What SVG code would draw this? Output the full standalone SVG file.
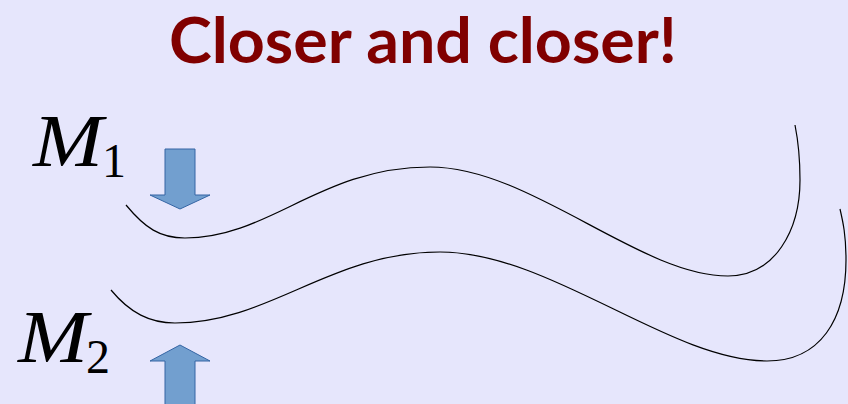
<svg xmlns="http://www.w3.org/2000/svg" width="848" height="404" viewBox="0 0 848 404">
<style>
.title{font-family:Lato,"Liberation Sans",sans-serif;font-weight:bold;font-size:63px;fill:#800000}
.m{font-family:"Liberation Serif",serif;font-style:italic;font-size:74px;fill:#000}
.sub{font-family:"Liberation Serif",serif;font-size:48px;fill:#000}
.arrow{fill:#729fcf;stroke:#3465a4;stroke-width:1}
.curve{fill:none;stroke:#000;stroke-width:1.2}
</style>
<rect width="848" height="404" fill="#e6e6fc"/>
<g id="title"><text class="title" x="423" y="62.5" text-anchor="middle" textLength="508" lengthAdjust="spacingAndGlyphs">Closer and closer!</text></g>
<g id="m1"><text class="m" x="33" y="166" textLength="70" lengthAdjust="spacingAndGlyphs">M</text><text class="sub" x="102" y="177">1</text></g>
<g id="m2"><text class="m" x="18" y="362" textLength="70" lengthAdjust="spacingAndGlyphs">M</text><text class="sub" x="86" y="373">2</text></g>
<g id="arrow1"><polygon class="arrow" points="165,149 195,149 195,195 210,195 180,209 150,195 165,195"/></g>
<g id="arrow2"><polygon class="arrow" points="180,345 210,361 195,361 195,406 165,406 165,361 150,361"/></g>
<g id="connectors">
<path class="curve" d="M126,205 C145,228 160,238 185,238 C270,238 320,167 430,167 C530,167 640,276 728,276 C775,276 800,230 800,180 C800,155 798,140 795,125"/>
<path class="curve" d="M111,290 C130,313 150,323 175,323 C270,323 330,252 440,252 C550,252 670,361 767,361 C820,361 846,320 846,260 C846,235 843,222 840,209"/>
</g>
</svg>
